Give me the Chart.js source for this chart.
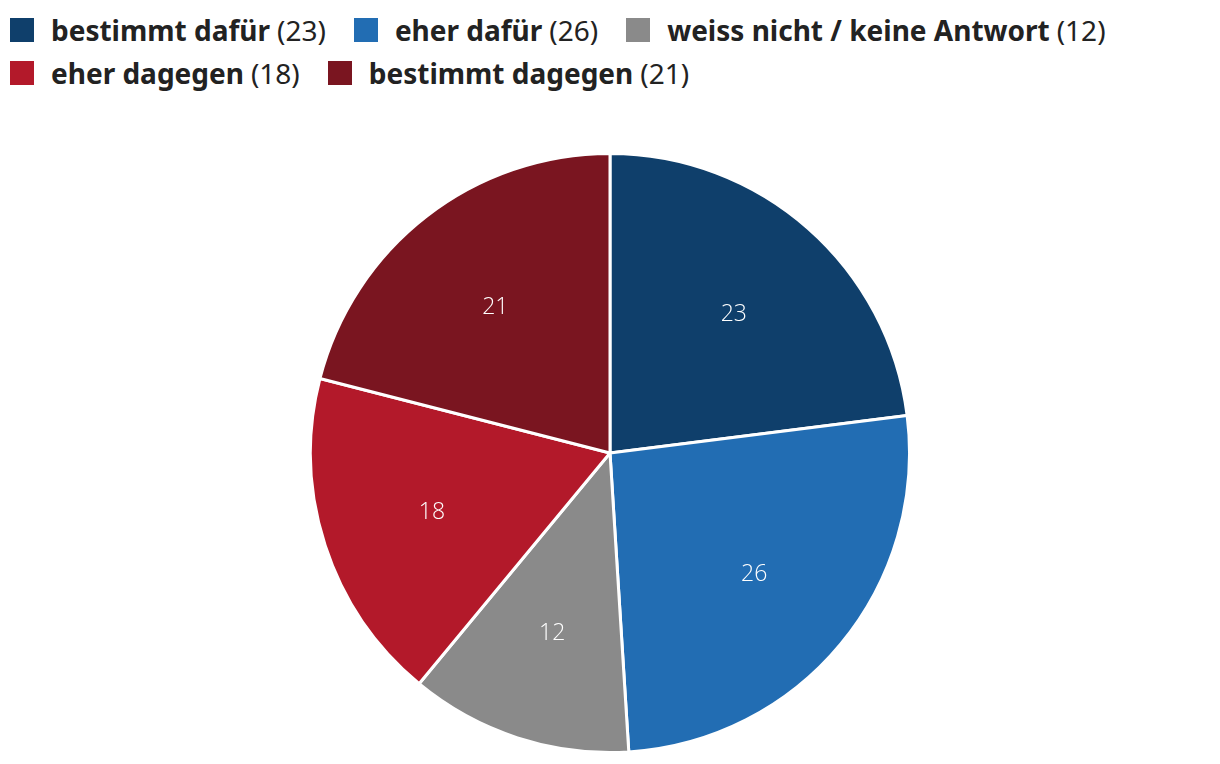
<!DOCTYPE html>
<html>
<head>
<meta charset="utf-8">
<script src="https://cdn.jsdelivr.net/npm/chart.js@4/dist/chart.umd.min.js"></script>
<style>
  body { margin: 0; background: #fff; font-family: "Noto Sans", sans-serif; color: #222; }
  #legend { position: absolute; left: 10px; top: 8px; width: 1200px; }
  .item { display: inline-flex; align-items: center; margin-right: 28px; height: 43px; font-size: 28px; }
  .box { width: 24px; height: 24px; margin-right: 17px; }
  .item b { font-weight: 700; margin-right: 7px; }
  .item span.n { font-weight: 400; }
  #wrap { position: absolute; left: 309px; top: 152px; width: 602px; height: 602px; }
</style>
</head>
<body>
<div id="legend"></div>
<div id="wrap"><canvas id="pie"></canvas></div>
<script>
const categories = ['bestimmt dafür', 'eher dafür', 'weiss nicht / keine Antwort', 'eher dagegen', 'bestimmt dagegen'];
const values = [23, 26, 12, 18, 21];
const colors = ['#0f3f6b', '#226db3', '#8a8a8a', '#b3192a', '#7a1520'];

// html legend, because the labels mix bold and normal text
const legend = document.getElementById('legend');
categories.forEach(function(c, i) {
    const el = document.createElement('div');
    el.className = 'item';
    el.innerHTML = '<div class="box" style="background:' + colors[i] + '"></div><b>' + c + '</b><span class="n">(' + values[i] + ')</span>';
    legend.appendChild(el);
    if (i === 2) legend.appendChild(document.createElement('br'));
});

const sliceLabels = {
    id: 'sliceLabels',
    afterDatasetsDraw: function(chart) {
        const ctx = chart.ctx;
        ctx.save();
        ctx.fillStyle = '#fff';
        ctx.font = '300 23px "Open Sans", sans-serif';
        ctx.textAlign = 'center';
        ctx.textBaseline = 'middle';
        chart.getDatasetMeta(0).data.forEach(function(arc, i) {
            const p = arc.getProps(['x', 'y', 'startAngle', 'endAngle', 'outerRadius'], true);
            const a = (p.startAngle + p.endAngle) / 2;
            const r = p.outerRadius * 0.625;
            ctx.fillText(String(values[i]), p.x + Math.cos(a) * r, p.y + Math.sin(a) * r + 2);
        });
        ctx.restore();
    }
};

new Chart(document.getElementById('pie'), {
    type: 'pie',
    data: {
        labels: categories,
        datasets: [{
            data: values,
            backgroundColor: colors,
            borderColor: '#fff',
            borderWidth: 3,
            hoverOffset: 0
        }]
    },
    options: {
        responsive: true,
        maintainAspectRatio: false,
        animation: false,
        plugins: {
            legend: { display: false },
            tooltip: { enabled: false }
        }
    },
    plugins: [sliceLabels]
});
</script>
</body>
</html>
